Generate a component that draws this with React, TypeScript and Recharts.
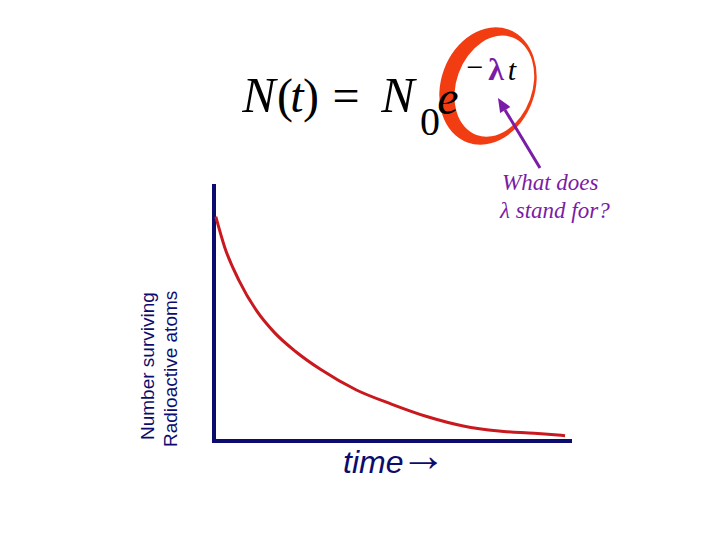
import { LineChart, Line, XAxis, YAxis, ReferenceLine } from 'recharts';

// decay curve (time in arbitrary units, N in % of the axis height)
const TIME = [0.05, 0.3, 0.7, 1.2, 1.7, 2.3, 3.0, 4.0, 5.0, 6.0, 7.0, 8.0, 9.0, 9.86];
const SURVIVING = [88, 76, 63, 51, 42.5, 35, 28, 20, 14.4, 9.5, 5.9, 3.9, 3.0, 2.1];

const Y_LABEL_LINES = ['Number surviving', 'Radioactive atoms'];
const X_LABEL = 'time';
const QUESTION_LINES = ['What does', 'λ stand for?'];

const data = TIME.map((t, i) => ({ t, n: SURVIVING[i] }));

const NAVY = '#0c0c6e';
const PURPLE = '#7a1ca6';
const SERIF = '"Liberation Serif", "Times New Roman", serif';
const SANS = '"Liberation Sans", Arial, sans-serif';

const YLabel = () => (
  <g>
    <text x={154} y={440} transform="rotate(-90 154 440)" fontFamily={SANS} fontSize={19} fill={NAVY}>
      {Y_LABEL_LINES[0]}
    </text>
    <text x={177} y={447} transform="rotate(-90 177 447)" fontFamily={SANS} fontSize={19} fill={NAVY}>
      {Y_LABEL_LINES[1]}
    </text>
  </g>
);

const XLabel = () => (
  <text x={343} y={473} fontFamily={SANS} fontSize={32} fontStyle="italic" fill={NAVY}>
    {X_LABEL}
    <tspan dx={-3} dy={-2} fontFamily={SERIF} fontStyle="normal" fontSize={46}>→</tspan>
  </text>
);

// ring around the exponent, thick on the left like a brush stroke
const ringPath = (cx: number, cy: number, rx: number, ry: number) =>
  `M${cx - rx},${cy} A${rx},${ry} 0 1 0 ${cx + rx},${cy} A${rx},${ry} 0 1 0 ${cx - rx},${cy} Z`;

const Annotations = () => (
  <svg width={720} height={540} style={{ position: 'absolute', left: 0, top: 0, pointerEvents: 'none' }}>
    <g transform="rotate(20 488 86)">
      <path
        d={ringPath(488, 86, 47, 60) + ' ' + ringPath(494, 84, 38, 52)}
        fill="#f23c12"
        fillRule="evenodd"
      />
    </g>
    <g fontFamily={SERIF} fill="#000">
      <text x={259} y={112} fontSize={50} fontStyle="italic" textAnchor="middle">N</text>
      <text x={285} y={112} fontSize={48} textAnchor="middle">(</text>
      <text x={297} y={112} fontSize={48} fontStyle="italic" textAnchor="middle">t</text>
      <text x={311} y={112} fontSize={48} textAnchor="middle">)</text>
      <text x={346} y={112} fontSize={48} textAnchor="middle">=</text>
      <text x={398} y={112} fontSize={50} fontStyle="italic" textAnchor="middle">N</text>
      <text x={430} y={135} fontSize={40} textAnchor="middle">0</text>
      <text x={448} y={114} fontSize={48} fontStyle="italic" textAnchor="middle">e</text>
      <text x={475} y={77} fontSize={30} textAnchor="middle">−</text>
      <text x={496} y={80} fontSize={32} fontWeight="bold" fill={PURPLE} textAnchor="middle">λ</text>
      <text x={512} y={80} fontSize={30} fontStyle="italic" textAnchor="middle">t</text>
    </g>
    <line x1={540} y1={168} x2={505} y2={110} stroke={PURPLE} strokeWidth={3} />
    <polygon points="498,98 510.4,106.9 500.1,113.1" fill={PURPLE} />
    <g fontFamily={SERIF} fontSize={23} fontStyle="italic" fill={PURPLE}>
      <text x={502} y={190}>{QUESTION_LINES[0]}</text>
      <text x={500} y={218}>{QUESTION_LINES[1]}</text>
    </g>
    <YLabel />
    <XLabel />
  </svg>
);

export default function App() {
  return (
    <div style={{ position: 'absolute', left: 0, top: 0, width: 720, height: 540, background: '#fff' }}>
      <LineChart width={720} height={540} data={data} margin={{ top: 186, right: 150, bottom: 99, left: 214 }}>
        <XAxis dataKey="t" type="number" domain={[0, 10]} hide />
        <YAxis type="number" domain={[0, 100]} hide />
        <ReferenceLine x={0} stroke={NAVY} strokeWidth={4} strokeLinecap="square" />
        <ReferenceLine y={0} stroke={NAVY} strokeWidth={4} strokeLinecap="square" />
        <Line
          type="monotone"
          dataKey="n"
          stroke="#c9191f"
          strokeWidth={3}
          dot={false}
          isAnimationActive={false}
        />
      </LineChart>
      <Annotations />
    </div>
  );
}
